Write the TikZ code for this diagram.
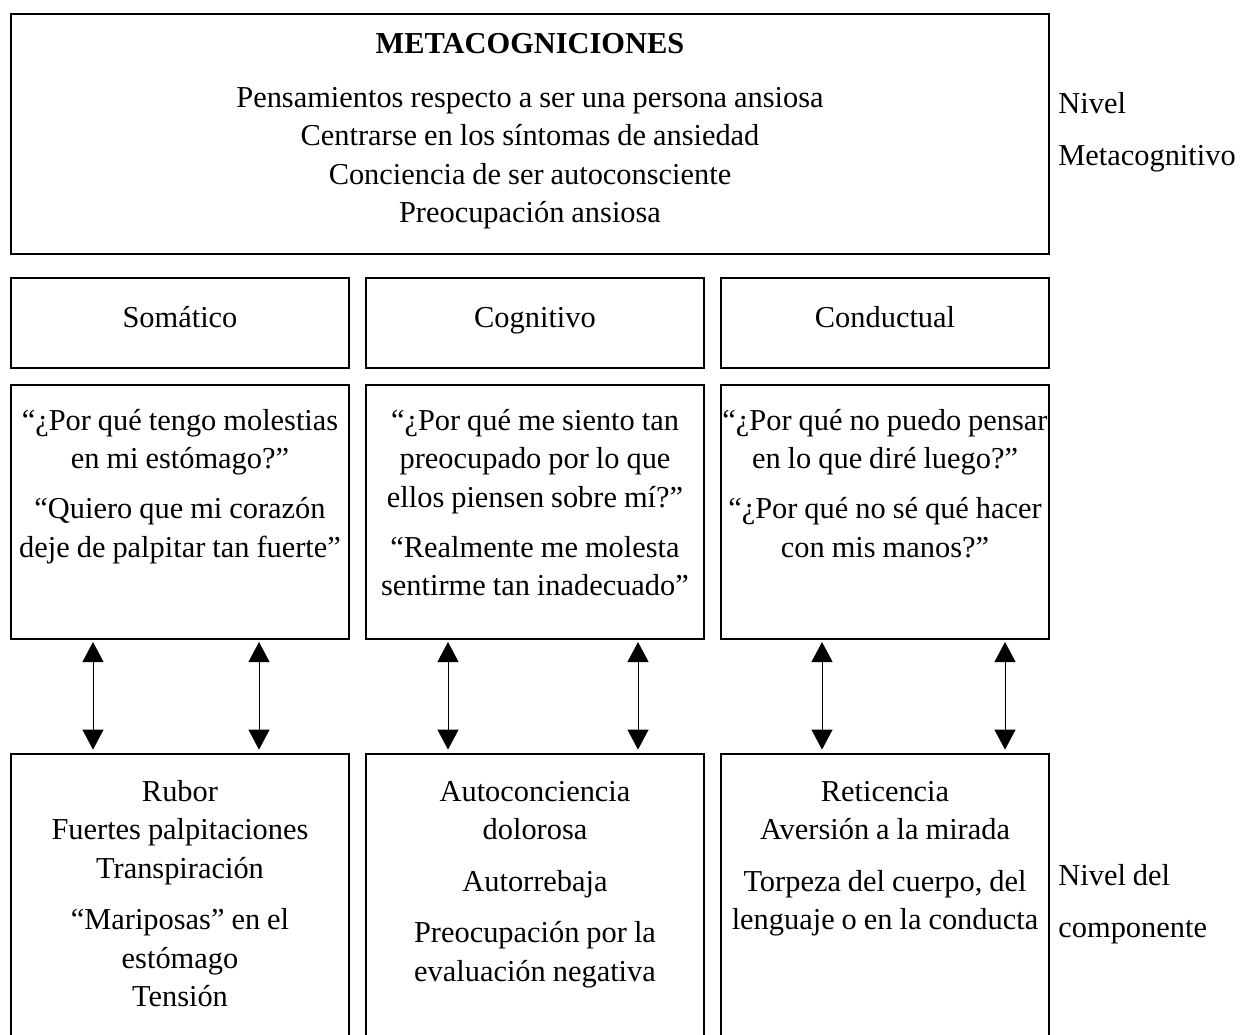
\documentclass[tikz,border=0pt]{standalone}
\usepackage{fontspec}
\setmainfont{Liberation Serif}
\usetikzlibrary{arrows.meta}
\newcommand\mytop{\spaceskip=0.23em\xspaceskip=0.23em\relax\rule{0pt}{14pt}}
\begin{document}
\begin{tikzpicture}[x=0.5pt,y=-0.5pt,
  box/.style={draw, line width=1pt, inner sep=0pt},
  openbox/.style={inner sep=0pt},
  txt/.style={inner sep=0pt, text width=178pt, align=center, anchor=north,
    font=\fontsize{15.2pt}{19.25pt}\selectfont},
  hd/.style={inner sep=0pt, anchor=base, font=\fontsize{15.2pt}{19.25pt}\selectfont},
  lbl/.style={inner sep=0pt, text width=100pt, align=left, anchor=north west,
    font=\fontsize{15.2pt}{26.25pt}\selectfont},
  link/.style={line width=0.5pt,
    {Triangle[width=10.5pt,length=10pt]}-{Triangle[width=10.5pt,length=10pt]},
    shorten <=1pt, shorten >=2pt}]
\useasboundingbox (0,0) rectangle (1240,1034);

% boxes
\node[box, minimum width=519pt, minimum height=120pt] (meta) at (530,134) {};
\node[box, minimum width=169pt, minimum height=45pt] (h1) at (180,323) {};
\node[box, minimum width=169pt, minimum height=45pt] (h2) at (535,323) {};
\node[box, minimum width=164pt, minimum height=45pt] (h3) at (885,323) {};
\node[box, minimum width=169pt, minimum height=127pt] (q1) at (180,512) {};
\node[box, minimum width=169pt, minimum height=127pt] (q2) at (535,512) {};
\node[box, minimum width=164pt, minimum height=127pt] (q3) at (885,512) {};
\node[openbox, minimum width=169pt, minimum height=145pt] (b1) at (180,899) {};
\node[openbox, minimum width=169pt, minimum height=145pt] (b2) at (535,899) {};
\node[openbox, minimum width=164pt, minimum height=145pt] (b3) at (885,899) {};
\draw[line width=1pt] (b1.south west) |- (b1.north east) -- (b1.south east);
\draw[line width=1pt] (b2.south west) |- (b2.north east) -- (b2.south east);
\draw[line width=1pt] (b3.south west) |- (b3.north east) -- (b3.south east);

% texts
\node[txt, text width=500pt] (metatxt) at (530,25) {\mytop\textbf{METACOGNICIONES}\\[7.75pt]
  Pensamientos respecto a ser una persona ansiosa\\
  Centrarse en los síntomas de ansiedad\\
  Conciencia de ser autoconsciente\\
  Preocupación ansiosa};

\node[hd] (h1t) at (180,327) {Somático};
\node[hd] (h2t) at (535,327) {Cognitivo};
\node[hd] (h3t) at (885,327) {Conductual};

\node[txt] (q1t) at (180,402) {\mytop“¿Por qué tengo molestias\\
  en mi estómago?”\\[5.75pt]
  “Quiero que mi corazón\\
  deje de palpitar tan fuerte”};
\node[txt] (q2t) at (535,402) {\mytop“¿Por qué me siento tan\\
  preocupado por lo que\\
  ellos piensen sobre mí?”\\[5.75pt]
  “Realmente me molesta\\
  sentirme tan inadecuado”};
\node[txt] (q3t) at (885,402) {\mytop“¿Por qué no puedo pensar\\
  en lo que diré luego?”\\[5.75pt]
  “¿Por qué no sé qué hacer\\
  con mis manos?”};

\node[txt] (b1t) at (180,773) {\mytop Rubor\\
  Fuertes palpitaciones\\
  Transpiración\\[6.5pt]
  “Mariposas” en el\\
  estómago\\
  Tensión};
\node[txt] (b2t) at (535,773) {\mytop Autoconciencia\\
  dolorosa\\[6.5pt]
  Autorrebaja\\[6.5pt]
  Preocupación por la\\
  evaluación negativa};
\node[txt] (b3t) at (885,773) {\mytop Reticencia\\
  Aversión a la mirada\\[6.5pt]
  Torpeza del cuerpo, del\\
  lenguaje o en la conducta};

% side labels
\node[lbl] (lvl1) at (1058,85) {\mytop Nivel\\ Metacognitivo};
\node[lbl] (lvl2) at (1058,857) {\mytop Nivel del\\ componente};

% connectors
\draw[link] (q1.south -| 93,0) -- (b1.north -| 93,0);
\draw[link] (q1.south -| 259,0) -- (b1.north -| 259,0);
\draw[link] (q2.south -| 448,0) -- (b2.north -| 448,0);
\draw[link] (q2.south -| 638,0) -- (b2.north -| 638,0);
\draw[link] (q3.south -| 822,0) -- (b3.north -| 822,0);
\draw[link] (q3.south -| 1005,0) -- (b3.north -| 1005,0);
\end{tikzpicture}
\end{document}
